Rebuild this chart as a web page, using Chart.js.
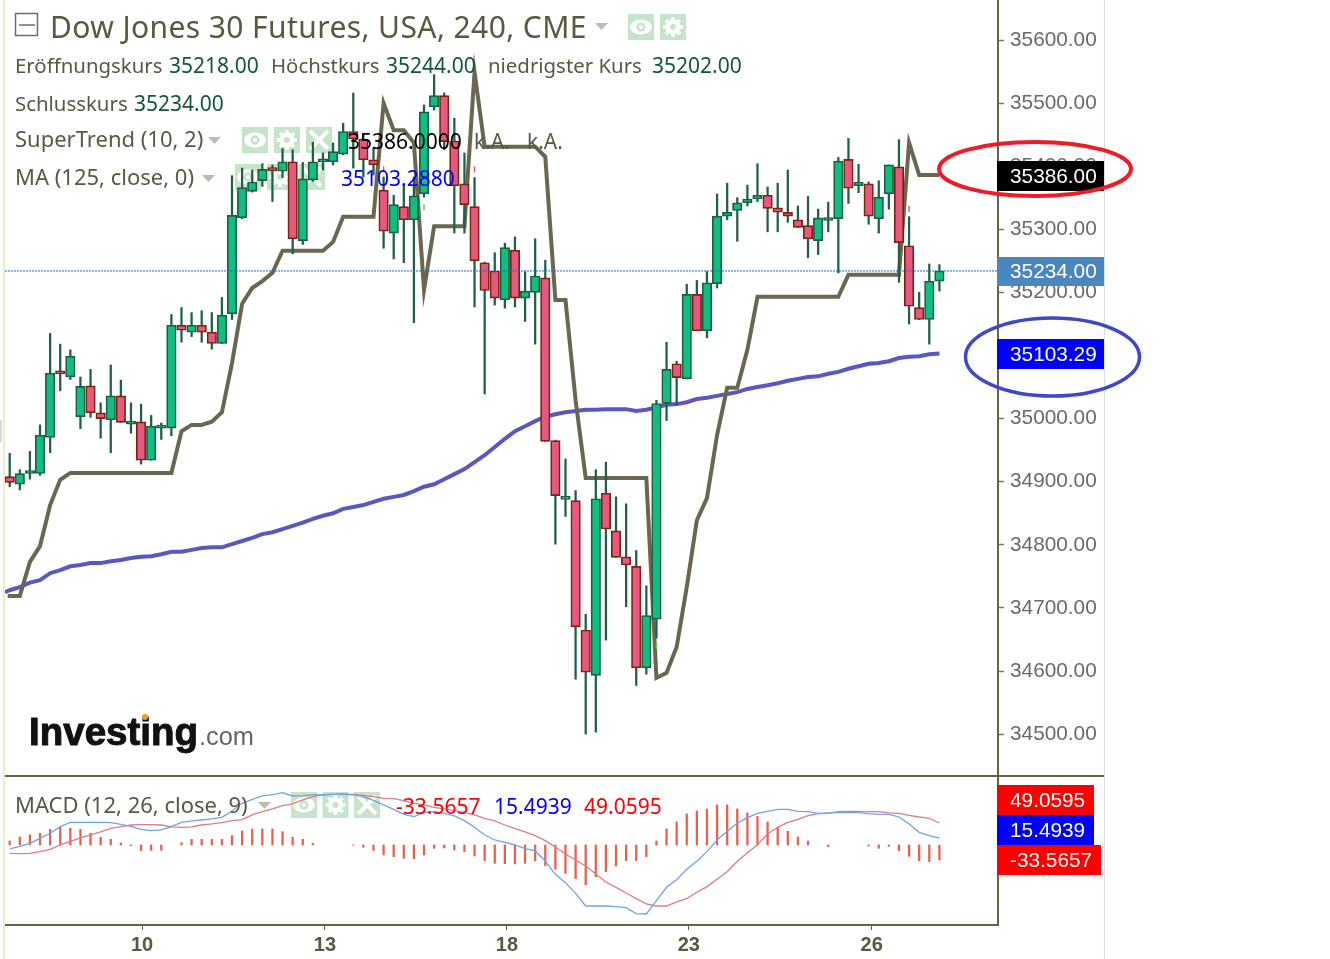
<!DOCTYPE html>
<html>
<head>
<meta charset="utf-8">
<title>Dow Jones 30 Futures</title>
<script src="https://cdn.jsdelivr.net/npm/chart.js@4/dist/chart.umd.min.js"></script>
<style>
  html, body { margin: 0; padding: 0; background: #fff; }
  canvas { display: block; }
</style>
</head>
<body>
<canvas id="grafDow" width="1330" height="959"></canvas>
<script>
// candles, 240 min bars
const opens = [34908,34896,34913,34913,34970,35074,35066,35003,35052,35009,34998,35036,34991,34995,34934,34985,34985,35148,35137,35148,35137,35119,35166,35318,35360,35377,35397,35392,35407,35282,35378,35407,35407,35419,35455,35443,35410,35362,35294,35336,35315,35356,35494,35512,35440,35372,35336,35247,35234,35188,35267,35191,35200,35223,34965,34872,34870,34665,34593,34882,34822,34781,34766,34605,34682,35024,35087,35063,35197,35139,35214,35321,35330,35342,35348,35354,35334,35327,35315,35306,35282,35314,35317,35411,35369,35372,35317,35356,35399,35274,35176,35157,35218];
const highs = [34945,34919,34948,34990,35135,35118,35109,35066,35078,35025,35085,35061,35025,35023,35005,34993,35165,35176,35168,35171,35168,35192,35385,35397,35394,35404,35402,35428,35426,35406,35438,35421,35437,35468,35516,35451,35429,35383,35354,35370,35383,35497,35545,35516,35476,35421,35382,35248,35263,35278,35288,35233,35285,35251,34966,34936,34886,34690,34919,34931,34876,34865,34791,34735,35029,35121,35091,35213,35219,35233,35356,35373,35350,35370,35404,35367,35373,35394,35337,35352,35332,35343,35414,35444,35403,35375,35377,35402,35442,35320,35200,35245,35244];
const lows = [34892,34887,34904,34910,34946,35044,35062,34984,35002,34969,34946,34994,34977,34928,34934,34967,34973,35121,35130,35121,35110,35119,35157,35317,35359,35368,35344,35382,35261,35276,35376,35394,35402,35418,35397,35383,35386,35270,35253,35247,35152,35351,35489,35426,35294,35294,35177,35039,35180,35175,35177,35154,35118,34964,34801,34845,34587,34500,34503,34649,34780,34702,34577,34595,34652,34997,35022,35063,35139,35128,35207,35315,35281,35337,35344,35296,35296,35311,35303,35255,35260,35296,35231,35341,35358,35308,35294,35332,35216,35150,35157,35118,35202];
const closes = [34899,34913,34914,34974,35072,35071,35099,35051,35009,35000,35036,34994,34995,34934,34988,34986,35148,35140,35148,35137,35119,35164,35322,35366,35375,35395,35393,35407,35285,35380,35407,35408,35423,35455,35443,35410,35402,35297,35339,35315,35353,35486,35512,35439,35369,35339,35250,35203,35191,35271,35191,35202,35226,34964,34878,34874,34670,34598,34873,34825,34780,34768,34605,34688,35024,35078,35065,35197,35139,35215,35321,35327,35342,35348,35354,35333,35327,35321,35303,35285,35318,35318,35408,35365,35375,35321,35351,35402,35279,35178,35157,35218,35234];

// indicators on the price pane
const superTrend = [34719,34719,34773,34798,34863,34903,34914,34914,34914,34914,34914,34914,34914,34914,34914,34914,34914,34980,34990,34990,34995,35010,35088,35182,35207,35218,35231,35266,35266,35266,35266,35266,35280,35320,35320,35320,35320,35500,35457,35457,35437,35204,35305,35305,35305,35305,35549,35431,35431,35431,35431,35431,35431,35415,35188,35188,35029,34906,34906,34906,34906,34906,34906,34906,34589,34597,34638,34733,34839,34874,34974,35049,35049,35109,35193,35193,35193,35193,35193,35193,35193,35193,35193,35228,35228,35228,35228,35228,35228,35437,35386,35386,35386];
const movingAvg = [34728,34733,34740,34744,34755,34760,34766,34768,34771,34771,34774,34776,34779,34781,34782,34785,34789,34789,34792,34795,34796,34796,34801,34806,34811,34817,34820,34825,34830,34835,34841,34846,34850,34857,34860,34863,34868,34873,34876,34879,34885,34892,34896,34904,34912,34920,34931,34942,34955,34968,34980,34988,34996,35003,35007,35010,35012,35014,35014,35015,35015,35015,35012,35014,35018,35022,35023,35026,35031,35033,35036,35039,35042,35047,35050,35053,35056,35060,35063,35066,35067,35071,35074,35079,35083,35087,35088,35091,35096,35098,35099,35102,35103];
// the indicator lines start just left of the first whole candle
const leftEdgeMA = 34725;
const leftEdgeST = 34719;

// MACD pane
const macdLine = [-8.9,-3,3.7,14.9,26.1,41,50.7,50.7,50.7,50.7,50,46.2,41.8,35,32.1,33.6,41,50.7,53.7,55.9,58.2,61.9,76.1,93.2,102.2,109.6,112.6,117.1,109.6,110.4,111.9,112.6,113.3,113.3,111.9,108.1,99.9,89.5,79.8,68.6,63.4,72.3,74.6,70.8,64.9,54.4,39.5,22.4,11.2,6,0,-8.2,-13.4,-36.5,-65.6,-84.3,-108.1,-136.5,-136.5,-136.5,-138,-140.2,-153.6,-154.4,-124.5,-94.7,-77.6,-54.4,-36.5,-14.9,11.2,30.6,48.5,61.1,70.8,75.3,79.8,79.8,75.3,74.6,70.8,71.6,72.3,73.1,72.3,70.1,68.6,68.6,62.6,47,28.3,20.9,15.5];
const signalLine = [-18.6,-19.4,-18.6,-14.9,-9.7,0,8.2,15.7,22.4,29.1,37.3,41,44.7,45.5,45.5,44.7,40.3,39.5,40.3,44.7,47,50,54.4,56.7,67.1,74.6,80.5,88,91.7,100.7,108.1,111.9,113.3,114.1,113.3,111.1,108.1,104.4,103.7,99.2,93.2,89.5,84.3,80.5,76.8,73.1,67.1,59.7,53.7,44.7,36.5,29.1,20.9,9.7,-4.5,-20.1,-33.6,-47,-64.9,-82.8,-94.7,-107.4,-120.1,-132,-136.5,-136.5,-127.5,-120.1,-105.9,-93.2,-76.8,-59.7,-36.5,-17.2,0.7,24.6,39.5,50.7,57.4,65.6,70.1,70.8,74.6,75.3,75.3,74.6,74.6,71.6,70.8,66.4,62.6,59.7,49.1];
const macdHist = [8.9,17.9,22.4,26.1,35,39.5,37.3,35,26.1,17.2,12.7,4.5,-1.5,-12.7,-11.9,-11.9,null,5.2,12.7,12.7,12.7,12.7,20.9,31.3,35.8,35.8,35.8,29.8,17.2,12.7,3.7,null,null,null,-0.7,-5.2,-11.9,-22.4,-26.1,-29.8,-30.6,-22.4,-7.5,-6.7,-11.2,-14.9,-24.6,-35,-41,-41.8,-42.5,-41,-35,-46.2,-54.4,-63.4,-75.3,-88.7,-70.8,-59.7,-47,-35,-35,-26.1,8.9,35.8,51.5,69.4,76.1,80.5,89.5,89.5,80.5,71.6,64.1,51.5,39.5,30.6,17.9,8.9,null,-3.7,null,null,null,-2.2,-7.5,-3,-12.7,-25.3,-35,-37.3,-33.6];

// axes
const priceTicks = [35600,35500,35400,35300,35200,35100,35000,34900,34800,34700,34600,34500];
const dayTicks = [13.1,31.2,49.2,67.2,85.3];
const dayLabels = ['10','13','18','23','26'];

// small alert marks on the candles
const redMarks = [{x:37,y:35395},{x:46,y:35395},{x:89,y:35332}];
const greenMarks = [{x:41,y:35335},{x:64,y:34640}];

const lastClose = 35234;

// scale ranges so that the price pane stops at y=776 and MACD sits under it
const xMin = -0.465, xMax = 97.8;
const priceMin = 34197.5, priceMax = 35663.4;
const macdMin = -179, macdMax = 1890;

const colorBorde = '#6b6045';
const colorTexto = '#5b5740';
const colorVerde = '#0fbf82';
const colorRojo = '#e8587c';
const fuente = '"Noto Sans"';

function icono(ctx, tipo, x, y) {
    const s = 26;
    ctx.fillStyle = '#c5e4c8';
    ctx.fillRect(x, y, s, s);
    ctx.fillStyle = '#fff';
    ctx.strokeStyle = '#fff';
    const cx = x + s / 2, cy = y + s / 2;
    if (tipo === 'ojo') {
        ctx.beginPath();
        ctx.ellipse(cx, cy, 11, 7.5, 0, 0, Math.PI * 2);
        ctx.fill();
        ctx.fillStyle = '#c5e4c8';
        ctx.beginPath();
        ctx.arc(cx, cy, 4.5, 0, Math.PI * 2);
        ctx.fill();
        ctx.fillStyle = '#fff';
        ctx.beginPath();
        ctx.arc(cx, cy, 2, 0, Math.PI * 2);
        ctx.fill();
    } else if (tipo === 'engrane') {
        ctx.lineWidth = 3.5;
        for (let a = 0; a < 4; a++) {
            const ang = a * Math.PI / 4;
            ctx.beginPath();
            ctx.moveTo(cx - Math.cos(ang) * 10, cy - Math.sin(ang) * 10);
            ctx.lineTo(cx + Math.cos(ang) * 10, cy + Math.sin(ang) * 10);
            ctx.stroke();
        }
        ctx.beginPath();
        ctx.arc(cx, cy, 7.5, 0, Math.PI * 2);
        ctx.fill();
        ctx.fillStyle = '#c5e4c8';
        ctx.beginPath();
        ctx.arc(cx, cy, 3, 0, Math.PI * 2);
        ctx.fill();
    } else {
        ctx.lineWidth = 4;
        ctx.beginPath();
        ctx.moveTo(x + 4, y + 4);
        ctx.lineTo(x + s - 4, y + s - 4);
        ctx.moveTo(x + s - 4, y + 4);
        ctx.lineTo(x + 4, y + s - 4);
        ctx.stroke();
    }
}

function triangulo(ctx, x, y) {
    ctx.fillStyle = '#c3b9b0';
    ctx.beginPath();
    ctx.moveTo(x, y);
    ctx.lineTo(x + 13, y);
    ctx.lineTo(x + 6.5, y + 7);
    ctx.closePath();
    ctx.fill();
}

function texto(ctx, str, x, y, color, font) {
    ctx.fillStyle = color;
    ctx.font = font;
    ctx.textAlign = 'left';
    ctx.textBaseline = 'middle';
    ctx.fillText(str, x, y);
}

function caja(ctx, str, x, y, w, h, fondo) {
    ctx.fillStyle = fondo;
    ctx.fillRect(x, y, w, h);
    texto(ctx, str, 1010, y + h / 2 + 1, '#fff', '20.8px "Liberation Sans"');
}

// icons go under the candles
const fondoPlugin = {
    id: 'fondo',
    beforeDatasetsDraw(chart) {
        const ctx = chart.ctx;
        ctx.save();
        ['ojo', 'engrane'].forEach((t, i) => icono(ctx, t, 628 + i * 32, 14));
        ['ojo', 'engrane', 'x'].forEach((t, i) => icono(ctx, t, 242 + i * 32, 127));
        ['ojo', 'engrane', 'x'].forEach((t, i) => icono(ctx, t, 235 + i * 32, 164));
        ['ojo', 'engrane', 'x'].forEach((t, i) => icono(ctx, t, 291 + i * 31.5, 792));
        ctx.restore();
    }
};

// legend text, price boxes and the hand drawn ellipses
const encimaPlugin = {
    id: 'encima',
    afterDraw(chart) {
        const ctx = chart.ctx;
        ctx.save();

        // frame lines
        ctx.strokeStyle = '#d3e6cf';
        ctx.lineWidth = 1;
        ctx.beginPath();
        ctx.moveTo(1104.5, 0);
        ctx.lineTo(1104.5, 959);
        ctx.stroke();
        ctx.strokeStyle = '#e9eecb';
        ctx.lineWidth = 2;
        ctx.beginPath();
        ctx.moveTo(4, 0);
        ctx.lineTo(4, 959);
        ctx.stroke();
        ctx.fillStyle = '#d8d8d8';
        ctx.fillRect(0, 420, 2, 22);
        ctx.strokeStyle = colorBorde;
        ctx.lineWidth = 2;
        ctx.beginPath();
        ctx.moveTo(5, 776);
        ctx.lineTo(1104, 776);
        ctx.stroke();

        // title
        ctx.strokeStyle = '#6d6d6d';
        ctx.lineWidth = 1.5;
        ctx.strokeRect(15.5, 13.5, 22, 22);
        ctx.beginPath();
        ctx.moveTo(19, 25);
        ctx.lineTo(35, 25);
        ctx.stroke();
        ctx.letterSpacing = '0.4px';
        texto(ctx, 'Dow Jones 30 Futures, USA, 240, CME', 50, 29, colorTexto, '30px ' + fuente);
        ctx.letterSpacing = '0px';
        triangulo(ctx, 595, 23);

        // OHLC
        const f = '21px ' + fuente;
        const fEtq = '20.4px ' + fuente;
        const fInd = '22px ' + fuente;
        const verdeOsc = '#12573d';
        texto(ctx, 'Eröffnungskurs', 15, 67, colorTexto, fEtq);
        texto(ctx, '35218.00', 169, 67, verdeOsc, f);
        texto(ctx, 'Höchstkurs', 271, 67, colorTexto, fEtq);
        texto(ctx, '35244.00', 386, 67, verdeOsc, f);
        texto(ctx, 'niedrigster Kurs', 488, 67, colorTexto, fEtq);
        texto(ctx, '35202.00', 652, 67, verdeOsc, f);
        texto(ctx, 'Schlusskurs', 15, 105, colorTexto, fEtq);
        texto(ctx, '35234.00', 134, 105, verdeOsc, f);

        // indicators
        texto(ctx, 'SuperTrend (10, 2)', 15, 141, colorTexto, fInd);
        triangulo(ctx, 208, 137);
        texto(ctx, '35386.0000', 348, 143, '#000', f);
        texto(ctx, 'k.A.', 474, 143, colorTexto, f);
        texto(ctx, 'k.A.', 527, 143, colorTexto, f);
        texto(ctx, 'MA (125, close, 0)', 15, 179, colorTexto, fInd);
        triangulo(ctx, 202, 175);
        texto(ctx, '35103.2880', 341, 180, '#0000ff', f);
        texto(ctx, 'MACD (12, 26, close, 9)', 15, 807, colorTexto, fInd);
        triangulo(ctx, 258, 802);
        texto(ctx, '-33.5657', 396, 808, '#ff0000', f);
        texto(ctx, '15.4939', 494, 808, '#0000ff', f);
        texto(ctx, '49.0595', 584, 808, '#ff0000', f);

        // logo
        ctx.textBaseline = 'alphabetic';
        ctx.fillStyle = '#111';
        ctx.strokeStyle = '#111';
        ctx.lineWidth = 1;
        ctx.font = 'bold 39px "Liberation Sans"';
        ctx.fillText('Investing', 29, 745, 169);
        ctx.strokeText('Investing', 29, 745, 169);
        ctx.fillStyle = '#666';
        ctx.font = '26px "Liberation Sans"';
        ctx.fillText('.com', 199, 745, 55);
        ctx.fillStyle = '#f0a020';
        ctx.beginPath();
        ctx.arc(145, 717, 3, 0, Math.PI * 2);
        ctx.fill();

        // price boxes
        caja(ctx, '35386.00', 997, 161, 107, 30, '#000');
        caja(ctx, '35234.00', 997, 257, 107, 29, '#4a86c0');
        caja(ctx, '35103.29', 997, 339, 107, 30, '#0000ff');
        caja(ctx, '49.0595', 997, 785, 97, 30, '#ff0000');
        caja(ctx, '15.4939', 997, 815, 97, 30, '#0000ff');
        caja(ctx, '-33.5657', 997, 845, 104, 30, '#ff0000');

        // ellipses
        ctx.lineWidth = 4;
        ctx.strokeStyle = '#ee1c25';
        ctx.beginPath();
        ctx.ellipse(1035, 169, 96, 27, 0, 0, Math.PI * 2);
        ctx.stroke();
        ctx.lineWidth = 3.5;
        ctx.strokeStyle = '#3f48cc';
        ctx.beginPath();
        ctx.ellipse(1052.5, 357, 87, 39, 0, 0, Math.PI * 2);
        ctx.stroke();
        ctx.restore();
    }
};

function puntos(serie) {
    return serie.map((v, i) => ({ x: i, y: v }));
}

const data = {
    datasets: [
        {
            type: 'line',
            label: 'Ultimo',
            data: [{ x: xMin, y: lastClose }, { x: xMax, y: lastClose }],
            yAxisID: 'y',
            borderColor: '#1f66d0',
            borderWidth: 1,
            borderDash: [2, 1],
            pointRadius: 0,
            order: 0
        },
        {
            type: 'line',
            label: 'Alerta roja',
            data: redMarks,
            yAxisID: 'y',
            showLine: false,
            pointStyle: 'line',
            rotation: 90,
            pointRadius: 3,
            pointBorderColor: '#e8587c',
            pointBorderWidth: 1.5,
            order: 0
        },
        {
            type: 'line',
            label: 'Alerta verde',
            data: greenMarks,
            yAxisID: 'y',
            showLine: false,
            pointStyle: 'line',
            rotation: 90,
            pointRadius: 3,
            pointBorderColor: '#44dd44',
            pointBorderWidth: 1.5,
            order: 0
        },
        {
            type: 'bar',
            label: 'Cuerpo',
            data: opens.map((o, i) => ({ x: i, y: [o, closes[i]] })),
            yAxisID: 'y',
            grouped: false,
            barThickness: 9.5,
            minBarLength: 3,
            backgroundColor: opens.map((o, i) => closes[i] >= o ? colorVerde : colorRojo),
            borderColor: opens.map((o, i) => closes[i] >= o ? '#1c5f43' : '#7a2412'),
            borderWidth: 1.7,
            borderSkipped: false,
            order: 1
        },
        {
            type: 'bar',
            label: 'Mecha',
            data: lows.map((l, i) => ({ x: i, y: [l, highs[i]] })),
            yAxisID: 'y',
            grouped: false,
            barThickness: 1.6,
            backgroundColor: '#1f5f48',
            borderWidth: 0,
            order: 2
        },
        {
            type: 'line',
            label: 'SuperTrend',
            data: [{ x: -0.2, y: leftEdgeST }].concat(puntos(superTrend)),
            yAxisID: 'y',
            borderColor: '#6b6650',
            borderWidth: 4,
            pointRadius: 0,
            tension: 0,
            borderJoinStyle: 'miter',
            order: 3
        },
        {
            type: 'line',
            label: 'MA',
            data: [{ x: xMin, y: leftEdgeMA }].concat(puntos(movingAvg)),
            yAxisID: 'y',
            borderColor: '#5b57c2',
            borderWidth: 4,
            pointRadius: 0,
            tension: 0,
            order: 3
        },
        {
            type: 'bar',
            label: 'Histograma',
            data: puntos(macdHist),
            yAxisID: 'ym',
            grouped: false,
            barThickness: 1.6,
            backgroundColor: '#e8604c',
            borderWidth: 0,
            order: 6
        },
        {
            type: 'line',
            label: 'MACD',
            data: puntos(macdLine),
            yAxisID: 'ym',
            borderColor: '#6fa4ea',
            borderWidth: 1.3,
            pointRadius: 0,
            tension: 0,
            order: 5
        },
        {
            type: 'line',
            label: 'Signal',
            data: puntos(signalLine),
            yAxisID: 'ym',
            borderColor: '#e07a8c',
            borderWidth: 1.3,
            pointRadius: 0,
            tension: 0,
            order: 5
        }
    ]
};

const config = {
    type: 'bar',
    data: data,
    plugins: [fondoPlugin, encimaPlugin],
    options: {
        responsive: false,
        animation: false,
        events: [],
        layout: {
            autoPadding: false,
            padding: { left: 5, right: 226, top: 0, bottom: 0 }
        },
        plugins: {
            legend: { display: false },
            tooltip: { enabled: false }
        },
        scales: {
            x: {
                type: 'linear',
                offset: false,
                min: xMin,
                max: xMax,
                afterBuildTicks: function (axis) {
                    axis.ticks = dayTicks.map(v => ({ value: v }));
                },
                afterFit: function (axis) {
                    axis.height = 34;
                    axis.paddingLeft = 0;
                    axis.paddingRight = 0;
                },
                border: { display: true, color: colorBorde, width: 2 },
                grid: {
                    offset: false,
                    drawOnChartArea: false,
                    drawTicks: true,
                    tickLength: 5,
                    tickColor: colorBorde,
                    tickWidth: 1
                },
                ticks: {
                    autoSkip: false,
                    maxRotation: 0,
                    padding: 3,
                    color: colorTexto,
                    font: { family: 'Liberation Sans', size: 20, weight: 'bold' },
                    callback: function (value, index) {
                        return dayLabels[index];
                    }
                }
            },
            y: {
                position: 'right',
                min: priceMin,
                max: priceMax,
                afterBuildTicks: function (axis) {
                    axis.ticks = priceTicks.map(v => ({ value: v }));
                },
                afterFit: function (axis) {
                    axis.width = 106;
                    axis.paddingTop = 0;
                    axis.paddingBottom = 0;
                },
                border: { display: true, color: colorBorde, width: 2 },
                grid: {
                    drawOnChartArea: false,
                    drawTicks: true,
                    tickLength: 6,
                    tickColor: '#777',
                    tickWidth: 1.5
                },
                ticks: {
                    padding: 6,
                    color: '#6a6a6a',
                    font: { family: 'Liberation Sans', size: 20.8 },
                    callback: function (value) {
                        return value.toFixed(2);
                    }
                }
            },
            ym: {
                display: false,
                position: 'right',
                min: macdMin,
                max: macdMax,
                ticks: { display: false },
                afterFit: function (axis) {
                    axis.paddingTop = 0;
                    axis.paddingBottom = 0;
                }
            }
        }
    }
};

const ctx = document.getElementById('grafDow').getContext('2d');
window.graficaDow = new Chart(ctx, config);
</script>
</body>
</html>
